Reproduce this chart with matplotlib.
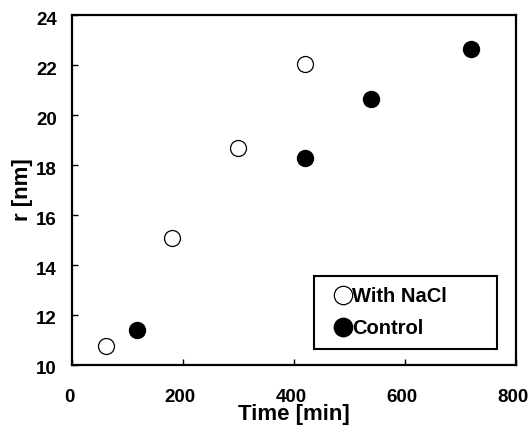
import matplotlib
matplotlib.use("Agg")
import matplotlib.pyplot as plt
import matplotlib.transforms as mtransforms

plt.rcParams['font.family'] = ['Liberation Sans', 'DejaVu Sans']
plt.rcParams['font.weight'] = 'bold'

# with NaCl (open circles)
nacl_t = [62, 180, 300, 420]
nacl_r = [10.76, 15.09, 18.7, 22.03]
# control (filled circles)
ctrl_t = [118, 419, 539, 719]
ctrl_r = [11.4, 18.28, 20.65, 22.63]

xticks = [0, 200, 400, 600, 800]
yticks = [10, 12, 14, 16, 18, 20, 22, 24]

fig = plt.figure(figsize=(5.3, 4.34), dpi=100)
ax = fig.add_axes([0.1358, 0.159, 0.8378, 0.8064])

ax.plot(nacl_t, nacl_r, linestyle='none', marker='o', markersize=11.5,
        markerfacecolor='white', markeredgecolor='black', markeredgewidth=0.9,
        label='With NaCl')
ax.plot(ctrl_t, ctrl_r, linestyle='none', marker='o', markersize=11.5,
        markerfacecolor='black', markeredgecolor='black',
        label='Control')

ax.set_xlim(0, 800)
ax.set_ylim(10, 24)
ax.set_xticks(xticks)
ax.set_yticks(yticks)
ax.tick_params(direction='in', length=4, width=1, labelsize=13.5)
ax.tick_params(axis='x', pad=17)
ax.tick_params(axis='y', pad=11)
for s in ax.spines.values():
    s.set_linewidth(1.6)

# nudge tick labels a few pixels like the original
xoff = mtransforms.ScaledTranslation(-3 / 100, 0, fig.dpi_scale_trans)
yoff = mtransforms.ScaledTranslation(0, -3 / 100, fig.dpi_scale_trans)
for lab in ax.get_xticklabels():
    lab.set_transform(lab.get_transform() + xoff)
for lab in ax.get_yticklabels():
    lab.set_transform(lab.get_transform() + yoff)

ax.set_xlabel('Time [min]', fontsize=16, fontweight='bold', labelpad=-1)
ax.set_ylabel('r [nm]', fontsize=16, fontweight='bold', labelpad=2)

leg = ax.legend(loc='lower left', bbox_to_anchor=(0.545, 0.046, 0.412, 0.2),
                mode='expand', fontsize=14.5, frameon=True, fancybox=False,
                edgecolor='black', handlelength=1.75, handletextpad=-0.4,
                borderpad=0.55, labelspacing=0.62, borderaxespad=0,
                markerscale=1.15)
leg.get_frame().set_linewidth(1.5)
leg.get_frame().set_alpha(1)
for t in leg.get_texts():
    t.set_fontweight('bold')

fig.savefig('out.png', dpi=100)
